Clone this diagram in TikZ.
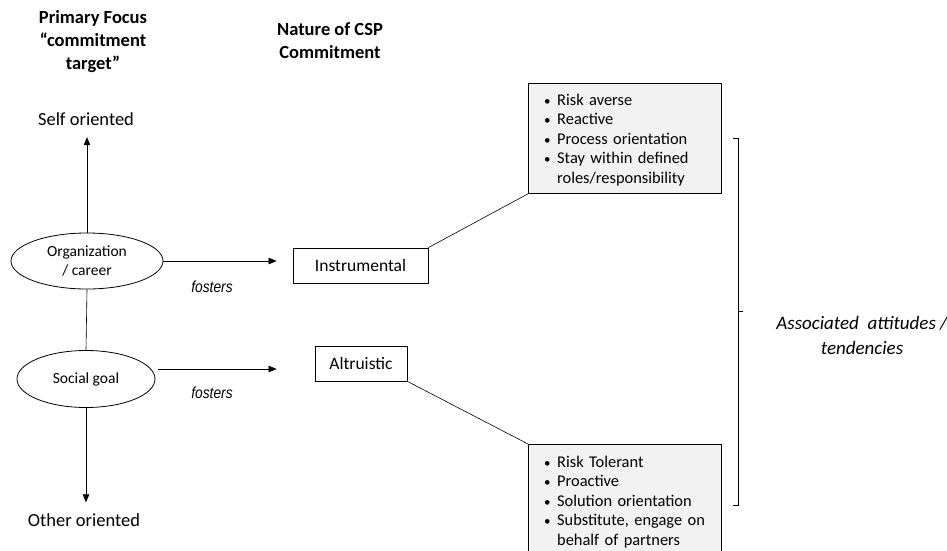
\documentclass[tikz,border=0pt]{standalone}
\usepackage{fontspec}
\usepackage{graphicx}
\setmainfont{Carlito}
\newfontfamily\narrowit{Liberation Sans}[FontFace={m}{it}{Liberation Sans Italic}]
\usetikzlibrary{shapes.geometric,arrows.meta,calc}

\tikzset{
  every node/.style={font=\fontsize{14}{17}\selectfont},
  head/.style={font=\bfseries\fontsize{18.5}{23}\selectfont, align=center},
  pole/.style={font=\fontsize{18.5}{22}\selectfont, inner sep=0pt},
  focus/.style={ellipse, draw, thick, inner sep=0pt, align=center,
                font=\fontsize{15.5}{19}\selectfont},
  kind/.style={draw, thick, minimum height=35pt, inner sep=0pt,
               font=\fontsize{17.5}{20}\selectfont},
  traitbox/.style={draw, thick, fill=black!5, anchor=north west,
                   minimum width=193pt, inner sep=0pt},
  traits/.style={anchor=west, text width=185pt, align=left, inner sep=0pt,
                 font=\fontsize{16.4}{19.5}\selectfont},
  flow/.style={-{Triangle[length=8pt,width=6.5pt]}, line width=0.6pt},
  link/.style={line width=0.6pt},
  verb/.style={font=\narrowit\itshape\fontsize{16}{18}\selectfont},
  note/.style={font=\itshape\fontsize{19}{25}\selectfont, align=center},
}
\newcommand{\bul}[1]{\makebox[15pt][l]{\hspace{2pt}{\fontsize{13}{13}\selectfont\textbullet}}#1}
\newcommand{\cont}[1]{\hspace*{15pt}#1}
\newcommand{\narrowtext}[1]{\scalebox{0.86}[1]{#1}}

\begin{document}
\begin{tikzpicture}[x=1pt,y=-1pt]
\useasboundingbox (0,0) rectangle (947,551);
\clip (0,0) rectangle (947,551);

% column headings
\node[head] (hfocus) at (93,42) {Primary Focus\\``commitment\\target''};
\node[head] (hnature) at (330,41) {Nature of CSP\\Commitment};

% focus axis
\node[pole] (self) at (86,119.5) {Self oriented};
\node[pole] (other) at (84,520) {Other oriented};
\node[focus, minimum width=152pt, minimum height=56pt] (org) at (87,261) {Organization\\/ career};
\node[focus, minimum width=138pt, minimum height=57pt] (social) at (86,379) {Social goal};

\draw[flow] (org.north) -- (org.north |- self.south) [shorten >=11pt];
\draw[link] (org.south) -- (social.north);
\draw[flow, shorten >=11pt] (social.south) -- (social.south |- other.north);

% nature of commitment
\node[kind, minimum width=135pt] (instr) at (360.5,265.5) {Instrumental};
\node[kind, minimum width=92pt] (alt) at (361,363.5) {Altruistic};

\draw[flow, shorten >=16pt] (org.east) -- (org.east -| instr.west);
\coordinate (sg) at (158,369);
\draw[flow, shorten >=38pt] (sg) -- (sg -| alt.west);
\node[verb] (f1) at (212,287) {\narrowtext{fosters}};
\node[verb] (f2) at (212,393) {\narrowtext{fosters}};

% associated attitudes
\node[traitbox, minimum height=110pt] (risk) at (528,83) {};
\node[traits] (risktxt) at ($(risk.west)+(14,1.5)$) {%
  \bul{Risk averse}\\
  \bul{Reactive}\\
  \bul{Process orientation}\\
  \bul{Stay within defined}\\
  \cont{roles/responsibility}};
\node[traitbox, minimum height=112pt] (tol) at (528,444) {};
\node[traits] (toltxt) at ($(tol.west)+(14,1.5)$) {%
  \bul{Risk Tolerant}\\
  \bul{Proactive}\\
  \bul{Solution orientation}\\
  \bul{Substitute, engage on}\\
  \cont{behalf of partners}};

\draw[link] (instr.north east) -- (risk.south west);
\draw[link] (alt.south east) -- (tol.north west);

% bracket
\coordinate (bt) at (733,138);
\coordinate (bb) at (733,505);
\coordinate (bm) at (738,311);
\draw[link] (bt) -- ++(5,0) -- ([xshift=5pt]bb) -- (bb);
\draw[link] (bm) -- ++(5,0);
\node[note] (assoc) at (862,335) {Associated\ \ attitudes /\\tendencies};
\end{tikzpicture}
\end{document}
